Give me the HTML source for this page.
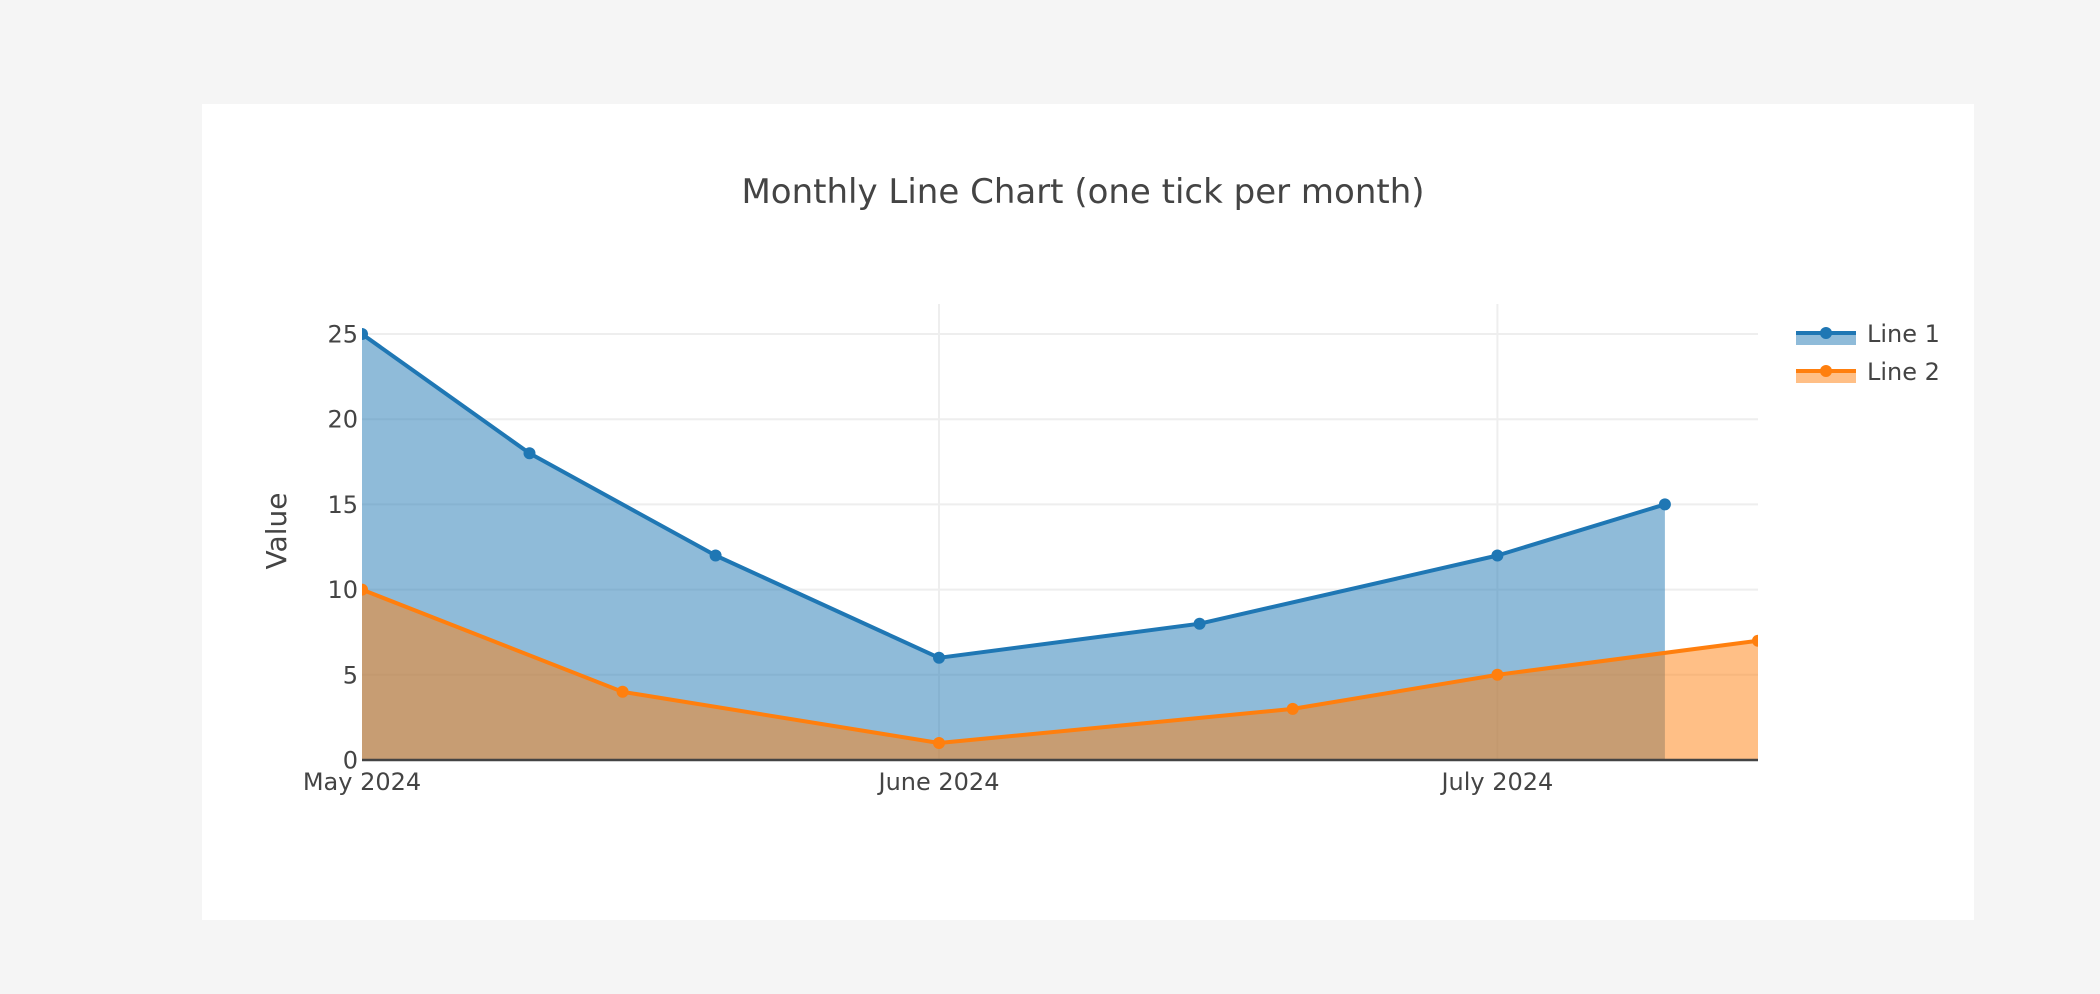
<!DOCTYPE html>
<html>
<head>
<meta charset="utf-8">
<style>
  html, body { margin: 0; padding: 0; background: #f5f5f5; }
  svg { display: block; }
  text { font-family: "DejaVu Sans", "Liberation Sans", sans-serif; fill: #444; }
</style>
</head>
<body>
<svg width="2100" height="994" viewBox="0 0 2100 994" xmlns="http://www.w3.org/2000/svg">
  <rect x="0" y="0" width="2100" height="994" fill="#f5f5f5"/>
  <rect x="202" y="104" width="1772" height="816" fill="#ffffff"/>

  <defs>
    <clipPath id="plot">
      <rect x="362" y="304" width="1396" height="456"/>
    </clipPath>
  </defs>

  <!-- gridlines -->
  <g stroke="#eeeeee" stroke-width="2">
    <line x1="362" y1="334" x2="1758" y2="334"/>
    <line x1="362" y1="419.2" x2="1758" y2="419.2"/>
    <line x1="362" y1="504.4" x2="1758" y2="504.4"/>
    <line x1="362" y1="589.6" x2="1758" y2="589.6"/>
    <line x1="362" y1="674.8" x2="1758" y2="674.8"/>
    <line x1="939" y1="304" x2="939" y2="760"/>
    <line x1="1497.4" y1="304" x2="1497.4" y2="760"/>
  </g>

  <g clip-path="url(#plot)">
    <!-- fills -->
    <polygon fill="#1f77b4" fill-opacity="0.5"
      points="362,760 362,334 529.5,453.3 715.6,555.5 939,657.8 1199.6,623.7 1497.4,555.5 1664.9,504.4 1664.9,760"/>
    <polygon fill="#ff7f0e" fill-opacity="0.5"
      points="362,760 362,589.6 622.6,691.8 939,743 1292.7,708.9 1497.4,674.8 1758,640.7 1758,760"/>

    <!-- lines -->
    <polyline fill="none" stroke="#1f77b4" stroke-width="4" stroke-linejoin="round"
      points="362,334 529.5,453.3 715.6,555.5 939,657.8 1199.6,623.7 1497.4,555.5 1664.9,504.4"/>
    <polyline fill="none" stroke="#ff7f0e" stroke-width="4" stroke-linejoin="round"
      points="362,589.6 622.6,691.8 939,743 1292.7,708.9 1497.4,674.8 1758,640.7"/>

    <!-- markers -->
    <g fill="#1f77b4">
      <circle cx="362" cy="334" r="6"/>
      <circle cx="529.5" cy="453.3" r="6"/>
      <circle cx="715.6" cy="555.5" r="6"/>
      <circle cx="939" cy="657.8" r="6"/>
      <circle cx="1199.6" cy="623.7" r="6"/>
      <circle cx="1497.4" cy="555.5" r="6"/>
      <circle cx="1664.9" cy="504.4" r="6"/>
    </g>
    <g fill="#ff7f0e">
      <circle cx="362" cy="589.6" r="6"/>
      <circle cx="622.6" cy="691.8" r="6"/>
      <circle cx="939" cy="743" r="6"/>
      <circle cx="1292.7" cy="708.9" r="6"/>
      <circle cx="1497.4" cy="674.8" r="6"/>
      <circle cx="1758" cy="640.7" r="6"/>
    </g>
  </g>

  <!-- zero line -->
  <line x1="362" y1="760" x2="1758" y2="760" stroke="#444" stroke-width="2.5"/>

  <!-- y tick labels -->
  <g font-size="24" text-anchor="end">
    <text x="358" y="342.5">25</text>
    <text x="358" y="427.7">20</text>
    <text x="358" y="512.9">15</text>
    <text x="358" y="598.1">10</text>
    <text x="358" y="683.3">5</text>
    <text x="358" y="768.5">0</text>
  </g>

  <!-- x tick labels -->
  <g font-size="24" text-anchor="middle">
    <text x="362" y="790">May 2024</text>
    <text x="939" y="790">June 2024</text>
    <text x="1497.4" y="790">July 2024</text>
  </g>

  <!-- axis title -->
  <text font-size="28" text-anchor="middle" transform="translate(286,531) rotate(-90)">Value</text>

  <!-- title -->
  <text x="1083" y="203" font-size="34" text-anchor="middle">Monthly Line Chart (one tick per month)</text>

  <!-- legend -->
  <g>
    <rect x="1796" y="333" width="60" height="12" fill="#1f77b4" fill-opacity="0.5"/>
    <line x1="1796" y1="333" x2="1856" y2="333" stroke="#1f77b4" stroke-width="4"/>
    <circle cx="1826" cy="333" r="6" fill="#1f77b4"/>
    <text x="1867" y="342" font-size="24">Line 1</text>

    <rect x="1796" y="371" width="60" height="12" fill="#ff7f0e" fill-opacity="0.5"/>
    <line x1="1796" y1="371" x2="1856" y2="371" stroke="#ff7f0e" stroke-width="4"/>
    <circle cx="1826" cy="371" r="6" fill="#ff7f0e"/>
    <text x="1867" y="380" font-size="24">Line 2</text>
  </g>
</svg>
</body>
</html>
